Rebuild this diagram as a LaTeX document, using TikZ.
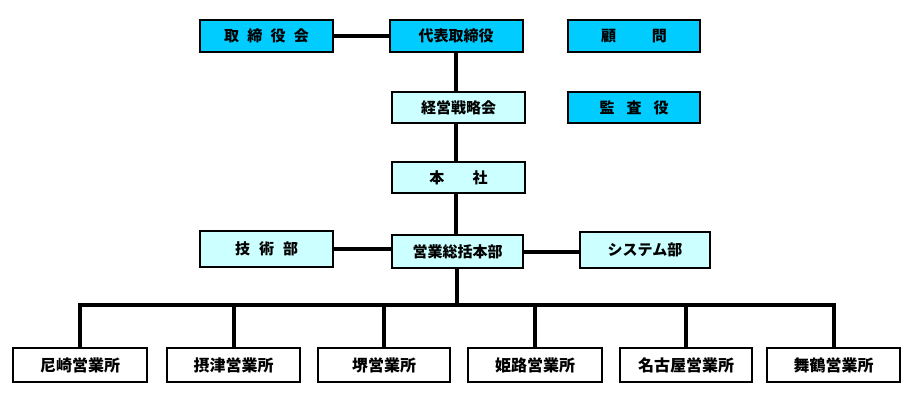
\documentclass[tikz,border=0pt]{standalone}
\usepackage{fontspec}
\newfontfamily\jp{Noto Sans CJK JP}
\definecolor{topcyan}{HTML}{00CCFF}
\definecolor{midcyan}{HTML}{CCFFFF}
\tikzset{
  box/.style={draw=black, line width=2pt, rectangle, inner sep=0pt, font=\jp\bfseries\fontsize{15}{17}\selectfont},
  topbox/.style={box, fill=topcyan, minimum width=133pt, minimum height=32pt},
  midbox/.style={box, fill=midcyan, minimum width=133pt, minimum height=32pt},
  lowbox/.style={box, fill=white, minimum width=133pt, minimum height=34pt, font=\jp\bfseries\fontsize{16}{18}\selectfont},
  conn/.style={line width=4pt, black},
}
\begin{document}
\begin{tikzpicture}[x=1pt,y=-1pt]
\useasboundingbox (0,0) rectangle (916,401);
% top row
\node[topbox] (torishimari) at (266.5,36) {取\hspace{0.55em}締\hspace{0.55em}役\hspace{0.55em}会};
\node[topbox] (daihyo) at (456,36) {代表取締役};
\node[topbox, minimum width=132pt] (komon) at (634,36) {顧\hspace{2.4em}問};
% second row
\node[midbox, minimum height=31pt] (keiei) at (458.5,107.5) {経営戦略会};
\node[topbox, minimum width=132pt, minimum height=31pt] (kansa) at (634,107.5) {監\hspace{0.8em}査\hspace{0.8em}役};
% third
\node[midbox, minimum height=31pt] (honsha) at (458.5,177.5) {本\hspace{1.9em}社};
% fourth
\node[midbox, minimum height=36pt] (gijutsu) at (266.5,249) {技\hspace{0.6em}術\hspace{0.6em}部};
\node[midbox, minimum width=131pt, minimum height=33pt] (eigyo) at (457.5,251.5) {営業総括本部};
\node[midbox, minimum width=130pt, minimum height=36pt] (system) at (645,250) {システム部};
% bottom
\node[lowbox, minimum width=134pt] (b1) at (80,365) {尼崎営業所};
\node[lowbox] (b2) at (233.5,365) {摂津営業所};
\node[lowbox, minimum width=132pt] (b3) at (384,365) {堺営業所};
\node[lowbox, minimum width=134pt] (b4) at (535,365) {姫路営業所};
\node[lowbox, minimum width=132pt] (b5) at (686,365) {名古屋営業所};
\node[lowbox] (b6) at (833.5,365) {舞鶴営業所};
\coordinate (bus) at (457,305);
% connectors
\draw[conn] (torishimari.east) -- (daihyo.west);
\draw[conn] (daihyo.south) -- (daihyo.south |- keiei.north);
\draw[conn] (keiei.south -| daihyo.south) -- (daihyo.south |- honsha.north);
\draw[conn] (honsha.south -| daihyo.south) -- (daihyo.south |- eigyo.north);
\draw[conn] (gijutsu.east) -- (gijutsu.east -| eigyo.west);
\draw[conn] (eigyo.east) -- (eigyo.east -| system.west);
\draw[conn] (eigyo.south -| bus) -- (bus);
\draw[conn, line cap=rect] (bus) -| (b1.north);
\draw[conn] (bus) -| (b2.north);
\draw[conn] (bus) -| (b3.north);
\draw[conn] (bus) -| (b4.north);
\draw[conn] (bus) -| (b5.north);
\draw[conn, line cap=rect] (bus) -| (b6.north);
\end{tikzpicture}
\end{document}
